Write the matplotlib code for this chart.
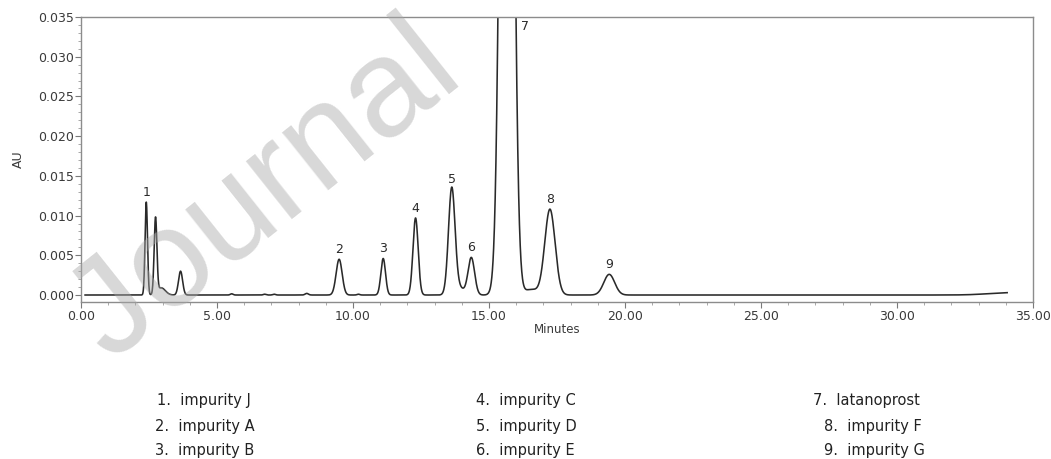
import numpy as np
import matplotlib
matplotlib.use("Agg")
import matplotlib.pyplot as plt
from matplotlib.ticker import MultipleLocator, FormatStrFormatter

plt.rcParams['font.family'] = ['DejaVu Sans']

# ---- data (retention time in min, height in AU, width sigma in min)
peak_times   = [2.40, 2.74, 3.66, 9.49, 11.11, 12.30, 13.63, 14.35, 15.66, 17.24, 19.42]
peak_heights = [0.0117, 0.0095, 0.0030, 0.0045, 0.0046, 0.0097, 0.0133, 0.0047, 0.163, 0.0108, 0.0026]
peak_sigmas  = [0.045, 0.050, 0.075, 0.110, 0.085, 0.095, 0.120, 0.120, 0.190, 0.190, 0.200]
peak_labels  = ["1", "", "", "2", "3", "4", "5", "6", "7", "8", "9"]

# minor features: tailing, baseline bumps and end drift
minor_times   = [2.95, 13.90, 16.55, 5.54, 6.75, 7.10, 8.30, 10.20, 34.20]
minor_heights = [0.0009, 0.0009, 0.0007, 0.00015, 0.0001, 0.0001, 0.0002, 0.0001, 0.0003]
minor_sigmas  = [0.15, 0.18, 0.25, 0.05, 0.05, 0.05, 0.06, 0.05, 0.80]

run_start, run_end = 0.15, 34.05

legend_col1 = ["1.  impurity J", "2.  impurity A", "3.  impurity B"]
legend_col2 = ["4.  impurity C", "5.  impurity D", "6.  impurity E"]
legend_col3 = ["7.  latanoprost", "8.  impurity F", "9.  impurity G"]

# ---- build trace from the peak table
t = np.linspace(run_start, run_end, 6000)
signal = np.zeros_like(t)
for c, h, s in zip(peak_times + minor_times, peak_heights + minor_heights, peak_sigmas + minor_sigmas):
    signal += h * np.exp(-0.5 * ((t - c) / s) ** 2)

W, H = 1051, 459
fig = plt.figure(figsize=(W / 100, H / 100), dpi=100)
ax = fig.add_axes([81 / W, 1 - 302 / H, (1033 - 81) / W, (302 - 17) / H])

ax.plot(t, signal, color='#2a2a2a', lw=1.15)
ax.set_xlim(0, 35)
ax.set_ylim(-0.00088, 0.035)

ax.xaxis.set_major_locator(MultipleLocator(5))
ax.xaxis.set_minor_locator(MultipleLocator(1))
ax.yaxis.set_major_locator(MultipleLocator(0.005))
ax.yaxis.set_minor_locator(MultipleLocator(0.001))
ax.xaxis.set_major_formatter(FormatStrFormatter('%.2f'))
ax.yaxis.set_major_formatter(FormatStrFormatter('%.3f'))

for sp in ax.spines.values():
    sp.set_color('#8c8c8c')
    sp.set_linewidth(1.0)
ax.tick_params(which='major', direction='out', length=4, width=0.8, color='#7a7a7a',
               labelsize=9, labelcolor='#3a3a3a')
ax.tick_params(which='minor', direction='out', length=2, width=0.6, color='#9a9a9a')
ax.tick_params(axis='y', which='major', pad=1)
ax.tick_params(axis='x', which='major', pad=2)

ax.set_xlabel('Minutes', fontsize=8.5, color='#3a3a3a', labelpad=0)
ax.set_ylabel('AU', fontsize=9, color='#3a3a3a')
ax.yaxis.set_label_coords(-56 / (1033 - 81), 0.5)

# peak number labels
for c, h, lab in zip(peak_times, peak_heights, peak_labels):
    if not lab:
        continue
    if h > 0.035:
        ax.annotate(lab, xy=(c, 0.035), xytext=(13, -7), textcoords='offset points',
                    ha='center', va='center', fontsize=9, color='#2a2a2a')
    else:
        ax.annotate(lab, xy=(c, h), xytext=(0, 7), textcoords='offset points',
                    ha='center', va='center', fontsize=9, color='#2a2a2a')

# legend text block below the plot
rows_y = [400, 426, 451]
for col, xs in ((legend_col1, [157, 155, 155]), (legend_col2, [476, 476, 476]), (legend_col3, [813, 824, 824])):
    for txt, x, y in zip(col, xs, rows_y):
        fig.text(x / W, 1 - y / H, txt, ha='left', va='center', fontsize=10.5, color='#222222')

# watermark
fig.text(110 / W, 1 - 362 / H, 'Journal', rotation=38.5, rotation_mode='anchor', ha='left',
         va='baseline', fontsize=100, color='#a8a8a8', alpha=0.45, family='Liberation Sans', zorder=10)

fig.savefig('out.png', dpi=100)
